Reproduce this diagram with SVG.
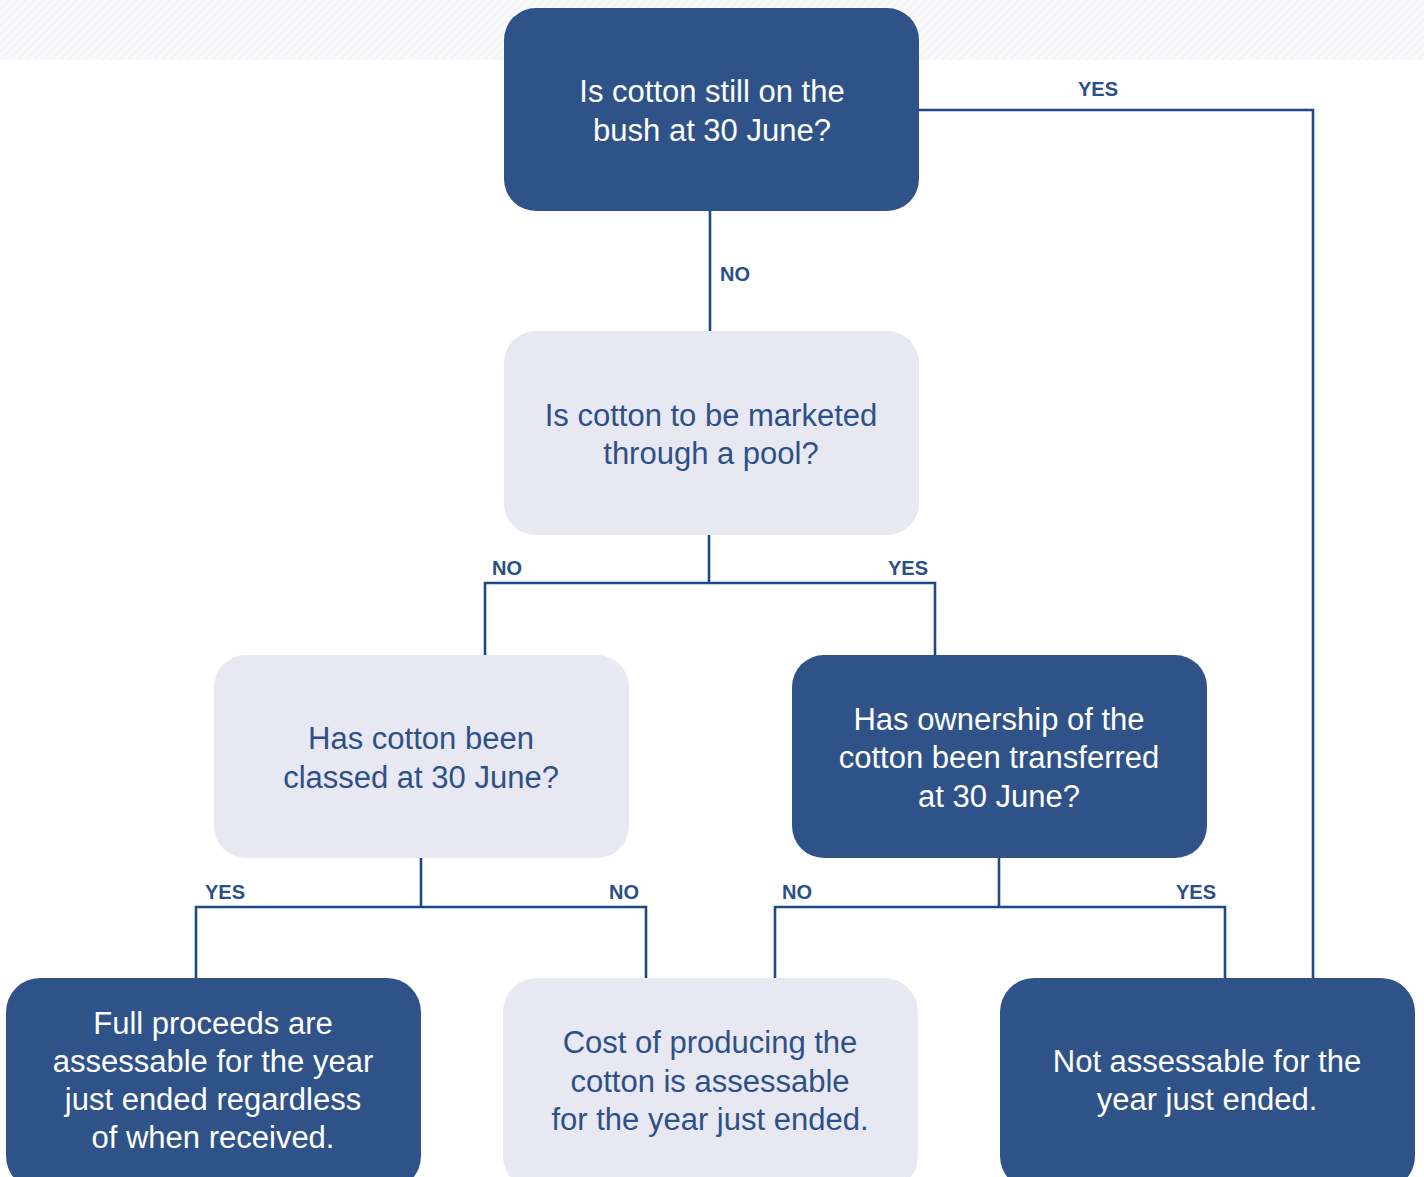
<svg xmlns="http://www.w3.org/2000/svg" width="1424" height="1177" viewBox="0 0 1424 1177">
<defs>
<pattern id="hatch" width="6" height="6" patternUnits="userSpaceOnUse" patternTransform="rotate(45)">
<rect width="6" height="6" fill="#fafafc"/>
<line x1="0" y1="0" x2="0" y2="6" stroke="#f1f1f5" stroke-width="2"/>
</pattern>
</defs>
<style>
.dark{fill:#2f5389}
.light{fill:#e8e8f2}
.tw{font-family:"Liberation Sans",Arial,sans-serif;font-size:31px;fill:#ffffff;text-anchor:middle}
.tb{font-family:"Liberation Sans",Arial,sans-serif;font-size:31px;fill:#2d5089;text-anchor:middle}
.lbl{font-family:"Liberation Sans",Arial,sans-serif;font-size:20px;font-weight:bold;fill:#2a4f87}
.conn{fill:none;stroke:#1d4a85;stroke-width:2.6}
</style>
<rect x="0" y="0" width="1424" height="60" fill="url(#hatch)"/>
<g id="connectors">
<path class="conn" d="M710,211 V331"/>
<path class="conn" d="M919,110 H1313 V978"/>
<path class="conn" d="M709,535 V583 M485,655 V583 H935 V655"/>
<path class="conn" d="M421,858 V907 M196,978 V907 H646 V978"/>
<path class="conn" d="M999,858 V907 M775,978 V907 H1225 V978"/>
<text class="lbl" x="720" y="281">NO</text>
<text class="lbl" x="1078" y="96">YES</text>
<text class="lbl" x="492" y="575">NO</text>
<text class="lbl" x="888" y="575">YES</text>
<text class="lbl" x="205" y="899">YES</text>
<text class="lbl" x="609" y="899">NO</text>
<text class="lbl" x="782" y="899">NO</text>
<text class="lbl" x="1176" y="899">YES</text>
</g>
<g id="n-bush">
<rect class="dark" x="504" y="8" width="415" height="203" rx="32"/>
<text class="tw" x="712" y="102">Is cotton still on the</text>
<text class="tw" x="712" y="141">bush at 30 June?</text>
</g>
<g id="n-pool">
<rect class="light" x="504" y="331" width="415" height="204" rx="32"/>
<text class="tb" x="711" y="426">Is cotton to be marketed</text>
<text class="tb" x="711" y="464">through a pool?</text>
</g>
<g id="n-classed">
<rect class="light" x="214" y="655" width="415" height="203" rx="32"/>
<text class="tb" x="421" y="749">Has cotton been</text>
<text class="tb" x="421" y="788">classed at 30 June?</text>
</g>
<g id="n-ownership">
<rect class="dark" x="792" y="655" width="415" height="203" rx="32"/>
<text class="tw" x="999" y="730">Has ownership of the</text>
<text class="tw" x="999" y="768">cotton been transferred</text>
<text class="tw" x="999" y="807">at 30 June?</text>
</g>
<g id="n-full">
<rect class="dark" x="6" y="978" width="415" height="212" rx="34"/>
<text class="tw" x="213" y="1034">Full proceeds are</text>
<text class="tw" x="213" y="1072">assessable for the year</text>
<text class="tw" x="213" y="1110">just ended regardless</text>
<text class="tw" x="213" y="1148">of when received.</text>
</g>
<g id="n-cost">
<rect class="light" x="503" y="978" width="415" height="212" rx="34"/>
<text class="tb" x="710" y="1053">Cost of producing the</text>
<text class="tb" x="710" y="1092">cotton is assessable</text>
<text class="tb" x="710" y="1130">for the year just ended.</text>
</g>
<g id="n-not">
<rect class="dark" x="1000" y="978" width="415" height="212" rx="34"/>
<text class="tw" x="1207" y="1072">Not assessable for the</text>
<text class="tw" x="1207" y="1110">year just ended.</text>
</g>
</svg>
